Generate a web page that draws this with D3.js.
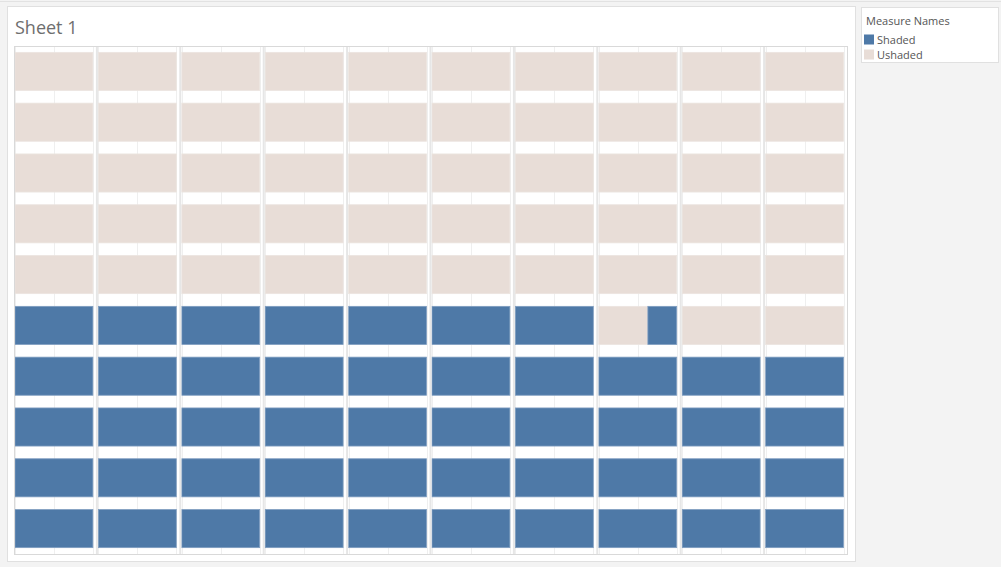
<!DOCTYPE html>
<html>
<head>
<meta charset="utf-8">
<script src="https://cdn.jsdelivr.net/npm/d3@7"></script>
<style>
  html, body { margin: 0; padding: 0; background: #f3f3f3; }
  svg { display: block; font-family: "Open Sans", "Noto Sans", sans-serif; }
</style>
</head>
<body>
<div id="root"></div>
<script>
// Waffle grid: 10 columns x 10 rows, each cell a stacked bar (Ushaded then Shaded).
const colLabels = ['1', '2', '3', '4', '5', '6', '7', '8', '9', '10'];
const rowLabels = ['10', '9', '8', '7', '6', '5', '4', '3', '2', '1']; // top to bottom
const measureNames = ['Shaded', 'Ushaded'];

// Shaded share of each cell, rows from top to bottom.
const shadedValues = [
  [0, 0, 0, 0, 0, 0, 0, 0, 0, 0],
  [0, 0, 0, 0, 0, 0, 0, 0, 0, 0],
  [0, 0, 0, 0, 0, 0, 0, 0, 0, 0],
  [0, 0, 0, 0, 0, 0, 0, 0, 0, 0],
  [0, 0, 0, 0, 0, 0, 0, 0, 0, 0],
  [1, 1, 1, 1, 1, 1, 1, 0.37, 0, 0],
  [1, 1, 1, 1, 1, 1, 1, 1, 1, 1],
  [1, 1, 1, 1, 1, 1, 1, 1, 1, 1],
  [1, 1, 1, 1, 1, 1, 1, 1, 1, 1],
  [1, 1, 1, 1, 1, 1, 1, 1, 1, 1]
];
// Ushaded share of each cell.
const unshadedValues = [
  [1, 1, 1, 1, 1, 1, 1, 1, 1, 1],
  [1, 1, 1, 1, 1, 1, 1, 1, 1, 1],
  [1, 1, 1, 1, 1, 1, 1, 1, 1, 1],
  [1, 1, 1, 1, 1, 1, 1, 1, 1, 1],
  [1, 1, 1, 1, 1, 1, 1, 1, 1, 1],
  [0, 0, 0, 0, 0, 0, 0, 0.63, 1, 1],
  [0, 0, 0, 0, 0, 0, 0, 0, 0, 0],
  [0, 0, 0, 0, 0, 0, 0, 0, 0, 0],
  [0, 0, 0, 0, 0, 0, 0, 0, 0, 0],
  [0, 0, 0, 0, 0, 0, 0, 0, 0, 0]
];
const gridTicks = [0, 0.5, 1];

const W = 1001, H = 567;
const plot = { left: 14, top: 46, right: 848, bottom: 554 };

const color = d3.scaleOrdinal()
  .domain(measureNames)
  .range(['#4e79a7', '#e8ddd7']);

const svg = d3.select('#root')
  .append('svg')
  .attr('width', W)
  .attr('height', H);

// Faint workbook chrome at the top.
svg.append('line')
  .attr('x1', 0).attr('x2', W).attr('y1', 1.5).attr('y2', 1.5)
  .attr('stroke', '#e2e2e2');

// Sheet panel.
svg.append('rect')
  .attr('x', 7.5).attr('y', 6.5)
  .attr('width', 848).attr('height', 555)
  .attr('fill', '#fff')
  .attr('stroke', '#e0e0e0');

svg.append('text')
  .attr('x', 15)
  .attr('y', 34)
  .attr('fill', '#6e6e6e')
  .style('font-size', '18px')
  .text('Sheet 1');

// Scales: columns are panes, rows are discrete bands.
const xPane = d3.scaleBand()
  .domain(colLabels)
  .range([plot.left, plot.right])
  .paddingInner(0)
  .paddingOuter(0);

const y = d3.scaleBand()
  .domain(rowLabels)
  .range([plot.top, plot.bottom])
  .paddingInner(0.25)
  .paddingOuter(0.125);

// Value axis inside one pane.
const xVal = d3.scaleLinear()
  .domain([0, 1])
  .range([1, xPane.bandwidth() - 4.5]);

const g = svg.append('g');

// Gridlines in every pane.
colLabels.forEach(function (c) {
  g.selectAll('.grid-' + c)
    .data(gridTicks)
    .enter()
    .append('line')
    .attr('x1', function (d) { return Math.round(xPane(c) + xVal(d)) + 0.5; })
    .attr('x2', function (d) { return Math.round(xPane(c) + xVal(d)) + 0.5; })
    .attr('y1', plot.top)
    .attr('y2', plot.bottom)
    .attr('stroke', '#efefef');
});

// Cells.
const cells = [];
rowLabels.forEach(function (r, i) {
  colLabels.forEach(function (c, j) {
    const u = unshadedValues[i][j];
    const s = shadedValues[i][j];
    if (u > 0) cells.push({ row: r, col: c, key: 'Ushaded', x0: 0, x1: u });
    if (s > 0) cells.push({ row: r, col: c, key: 'Shaded', x0: u, x1: u + s });
  });
});

g.selectAll('.cell')
  .data(cells)
  .enter()
  .append('rect')
  .attr('class', 'cell')
  .attr('x', function (d) { return xPane(d.col) + xVal(d.x0); })
  .attr('width', function (d) { return xVal(d.x1) - xVal(d.x0); })
  .attr('y', function (d) { return y(d.row); })
  .attr('height', y.bandwidth())
  .attr('fill', function (d) { return color(d.key); })
  .attr('stroke', function (d) { return d.key === 'Shaded' ? '#7f9dc0' : '#ece4df'; })
  .attr('stroke-width', 0.8);

// Pane separators.
g.selectAll('.sep')
  .data(colLabels.slice(1))
  .enter()
  .append('line')
  .attr('x1', function (d) { return xPane(d) - 0.5; })
  .attr('x2', function (d) { return xPane(d) - 0.5; })
  .attr('y1', plot.top)
  .attr('y2', plot.bottom)
  .attr('stroke', '#e6e6e6')
  .attr('stroke-width', 2);

// Plot border.
svg.append('rect')
  .attr('x', plot.left + 0.5).attr('y', plot.top + 0.5)
  .attr('width', plot.right - plot.left - 1)
  .attr('height', plot.bottom - plot.top)
  .attr('fill', 'none')
  .attr('stroke', '#d9d9d9');

// Legend.
const legend = svg.append('g').attr('transform', 'translate(861, 7)');

legend.append('rect')
  .attr('x', 0.5).attr('y', 0.5)
  .attr('width', 137).attr('height', 55)
  .attr('fill', '#fff')
  .attr('stroke', '#e0e0e0');

legend.append('text')
  .attr('x', 5)
  .attr('y', 17.5)
  .attr('fill', '#555')
  .style('font-size', '11px')
  .text('Measure Names');

const item = legend.selectAll('.legend-label')
  .data(measureNames)
  .enter()
  .append('g')
  .attr('class', 'legend-label')
  .attr('transform', function (d, i) { return 'translate(3,' + (27.5 + i * 15) + ')'; });

item.append('rect')
  .attr('width', 10)
  .attr('height', 10)
  .attr('fill', color);

item.append('text')
  .attr('x', 13)
  .attr('y', 9.5)
  .attr('fill', '#555')
  .style('font-size', '11px')
  .text(function (d) { return d; });
</script>
</body>
</html>
